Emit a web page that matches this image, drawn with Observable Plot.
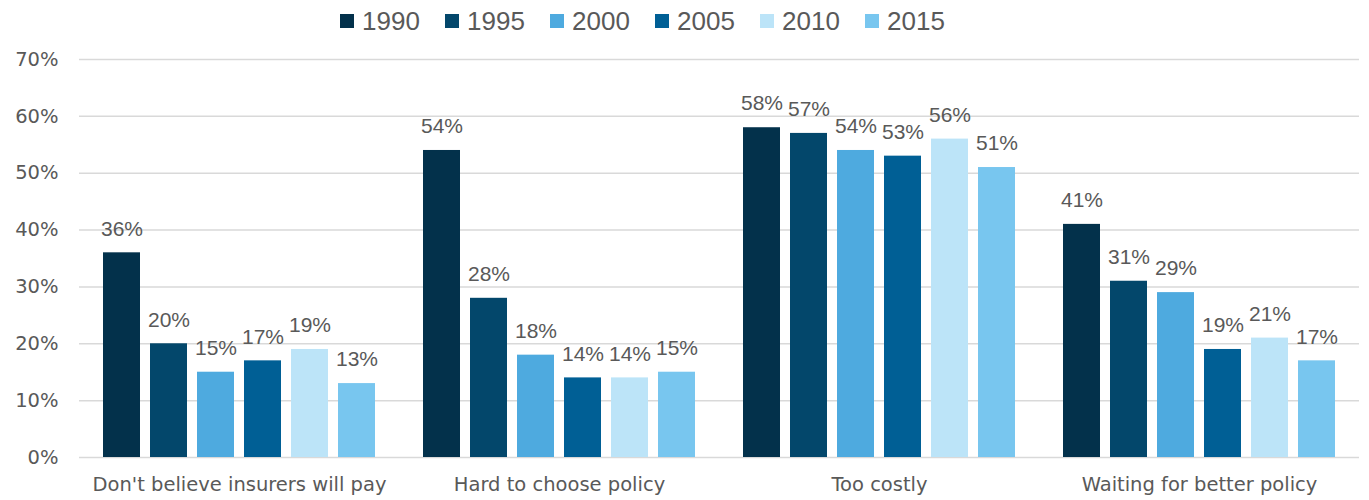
<!DOCTYPE html>
<html>
<head>
<meta charset="utf-8">
<script src="https://cdn.jsdelivr.net/npm/d3@7"></script>
<script src="https://cdn.jsdelivr.net/npm/@observablehq/plot@0.6"></script>
<style>
  body { margin: 0; background: #fff; font-family: "Liberation Sans", Arial, sans-serif; }
  #legend { height: 42px; display: flex; align-items: center; padding-left: 340px; }
  .item { display: flex; align-items: center; width: 105px; font-size: 26px; color: #595959; }
  .sw { width: 14px; height: 14px; margin-right: 8px; }
</style>
</head>
<body>
<div id="legend"></div>
<div id="chart"></div>
<script>
const categories = ["Don't believe insurers will pay", "Hard to choose policy", "Too costly", "Waiting for better policy"];
const years = ["1990", "1995", "2000", "2005", "2010", "2015"];
const colors = ["#03314b", "#03476b", "#4eaadf", "#005f95", "#bce4f8", "#78c6ef"];
const v1990 = [36, 54, 58, 41];
const v1995 = [20, 28, 57, 31];
const v2000 = [15, 18, 54, 29];
const v2005 = [17, 14, 53, 19];
const v2010 = [19, 14, 56, 21];
const v2015 = [13, 15, 51, 17];
const yTicks = [0, 0.1, 0.2, 0.3, 0.4, 0.5, 0.6, 0.7];

const series = [v1990, v1995, v2000, v2005, v2010, v2015];
const data = categories.flatMap((c, i) => years.map((y, j) => ({category: c, year: y, value: series[j][i] / 100})));

const legend = document.getElementById("legend");
years.forEach((y, j) => {
  const it = document.createElement("div");
  it.className = "item";
  it.innerHTML = `<div class="sw" style="background:${colors[j]}"></div><span>${y}</span>`;
  legend.appendChild(it);
});

const chart = Plot.plot({
  width: 1369,
  height: 458,
  marginLeft: 78,
  marginRight: 9,
  marginTop: 17,
  marginBottom: 43,
  style: {fontFamily: "'DejaVu Sans', sans-serif", fontSize: "19.5px", color: "#595959"},
  fx: {domain: categories, padding: 0, label: null, axis: "bottom", tickSize: 0, tickPadding: 20},
  x: {domain: years, axis: null, paddingInner: 0.21, paddingOuter: 0.47},
  y: {domain: [0, 0.7], ticks: yTicks, tickFormat: d3.format(".0%"), label: null, tickSize: 0, tickPadding: 21},
  color: {domain: years, range: colors},
  marks: [
    Plot.ruleY(yTicks, {stroke: "#d9d9d9", strokeWidth: 1.5}),
    Plot.barY(data, {fx: "category", x: "year", y: "value", fill: "year"}),
    Plot.text(data, {fx: "category", x: "year", y: "value", text: d => d3.format(".0%")(d.value), dy: -24, fill: "#595959", fontSize: 21, fontFamily: "'Liberation Sans', Arial, sans-serif"})
  ]
});
document.getElementById("chart").appendChild(chart);
</script>
</body>
</html>
